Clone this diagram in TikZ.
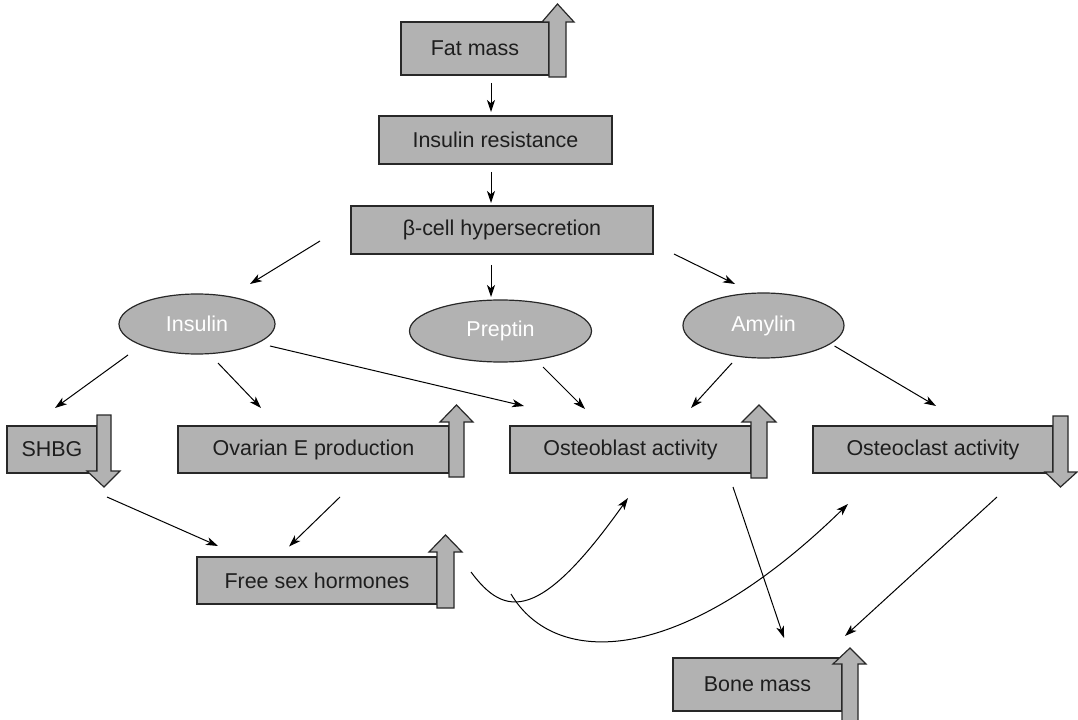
\documentclass[tikz,border=0pt]{standalone}
\usepackage{fontspec}
\setmainfont{Liberation Sans}
\usetikzlibrary{arrows.meta,calc,shapes.geometric}
\definecolor{boxgray}{RGB}{178,178,178}
\definecolor{edgegray}{RGB}{40,40,40}
\definecolor{txt}{RGB}{30,30,30}
\newcommand\bigup[7]{% xl xr ybottom ybase ytip hl hr
  \draw[bigarr] (#1,#3) -- (#1,#4) -- (#6,#4) -- ({(#1+#2)/2},#5) -- (#7,#4) -- (#2,#4) -- (#2,#3) -- cycle;}
\begin{document}
\begin{tikzpicture}[x=0.75pt,y=-0.75pt,
  box/.style={draw=edgegray,fill=boxgray,line width=0.9pt,inner sep=0pt,text=txt,font=\fontsize{16.1}{18}\selectfont},
  oval/.style={ellipse,draw=edgegray,fill=boxgray,line width=0.9pt,inner sep=0pt,text=white,font=\fontsize{16.1}{18}\selectfont},
  bigarr/.style={draw=edgegray,fill=boxgray,line width=0.9pt,line join=miter},
  conn/.style={draw=black,line width=0.75pt,-{Stealth[length=9pt,width=6pt,inset=2.5pt]}}]
\useasboundingbox (0,0) rectangle (1078,720);
% boxes
\node[box,minimum width=111pt,minimum height=39.75pt] (fat) at (475,48.5) {Fat mass};
\bigup{549}{566}{77}{22}{4}{542}{574}
\node[box,minimum width=174.75pt,minimum height=36pt] (ir) at (495.5,140) {Insulin resistance};
\node[box,minimum width=226.5pt,minimum height=36pt] (beta) at (502,230) {β-cell hypersecretion};
\node[oval,minimum width=117pt,minimum height=45pt] (ins) at (197,324) {Insulin};
\node[oval,minimum width=136.5pt,minimum height=46.5pt] (pre) at (500.5,331) {Preptin};
\node[oval,minimum width=120.75pt,minimum height=48.75pt] (amy) at (763.5,325.5) {Amylin};
\node[box,minimum width=67.5pt,minimum height=35.25pt] (shbg) at (52,449.5) {SHBG};
\node[box,minimum width=203.25pt,minimum height=35.25pt] (ova) at (313.5,449.5) {Ovarian E production};
\node[box,minimum width=180.75pt,minimum height=35.25pt] (obl) at (630.5,449.5) {Osteoblast activity};
\node[box,minimum width=180pt,minimum height=35.25pt] (ocl) at (933,449.5) {Osteoclast activity};
\node[box,minimum width=180pt,minimum height=35.25pt] (fsh) at (317,580.5) {Free sex hormones};
\node[box,minimum width=126.75pt,minimum height=39.75pt] (bone) at (757.5,684.5) {Bone mass};
% big arrows
\bigup{97}{111}{415}{471}{487}{87}{120}
\bigup{449}{464}{477}{422}{405}{440}{473}
\bigup{751}{767}{478}{422}{405}{742}{776}
\bigup{1053}{1068}{416}{472}{487}{1045}{1077}
\bigup{437}{454}{608}{552}{535}{429}{462}
\bigup{842}{858}{722}{664}{648}{833}{866}
% connectors
\draw[conn] ($(fat.center)+(16,34.5)$) -- ($(ir.center)+(-4.5,-28)$);
\draw[conn] ($(ir.center)+(-4.5,32)$) -- ($(beta.center)+(-11,-27)$);
\draw[conn] ($(beta.center)+(-182,11)$) -- ($(ins.center)+(53,-40)$);
\draw[conn] ($(beta.center)+(-11,35)$) -- ($(pre.center)+(-9.5,-34)$);
\draw[conn] ($(beta.center)+(172,24)$) -- ($(amy.center)+(-28.5,-41.5)$);
\draw[conn] ($(ins.center)+(-69,31)$) -- ($(shbg.center)+(3,-41.5)$);
\draw[conn] ($(ins.center)+(21,39)$) -- ($(ova.center)+(-52.5,-41.5)$);
\draw[conn] ($(ins.center)+(73,22)$) -- ($(obl.center)+(-106.5,-43.5)$);
\draw[conn] ($(pre.center)+(42.5,36)$) -- ($(obl.center)+(-45.5,-40.5)$);
\draw[conn] ($(amy.center)+(-31.5,37.5)$) -- ($(obl.center)+(60.5,-41.5)$);
\draw[conn] ($(amy.center)+(71,20.5)$) -- ($(ocl.center)+(3,-43.5)$);
\draw[conn] ($(shbg.center)+(55,47.5)$) -- ($(fsh.center)+(-99,-34.5)$);
\draw[conn] ($(ova.center)+(26.5,47.5)$) -- ($(fsh.center)+(-28,-34)$);
\draw[conn] ($(fsh.center)+(154,-8.5)$) .. controls (505,618) and (540,622) .. ($(obl.center)+(-2.5,48.5)$);
\draw[conn] ($(fsh.center)+(194,13.5)$) .. controls (555,668) and (680,668) .. ($(ocl.center)+(-85,54.5)$);
\draw[conn] ($(obl.center)+(102.5,37.5)$) -- ($(bone.center)+(26.5,-46.5)$);
\draw[conn] ($(ocl.center)+(64,47.5)$) -- ($(bone.center)+(87.5,-48.5)$);
\end{tikzpicture}
\end{document}
